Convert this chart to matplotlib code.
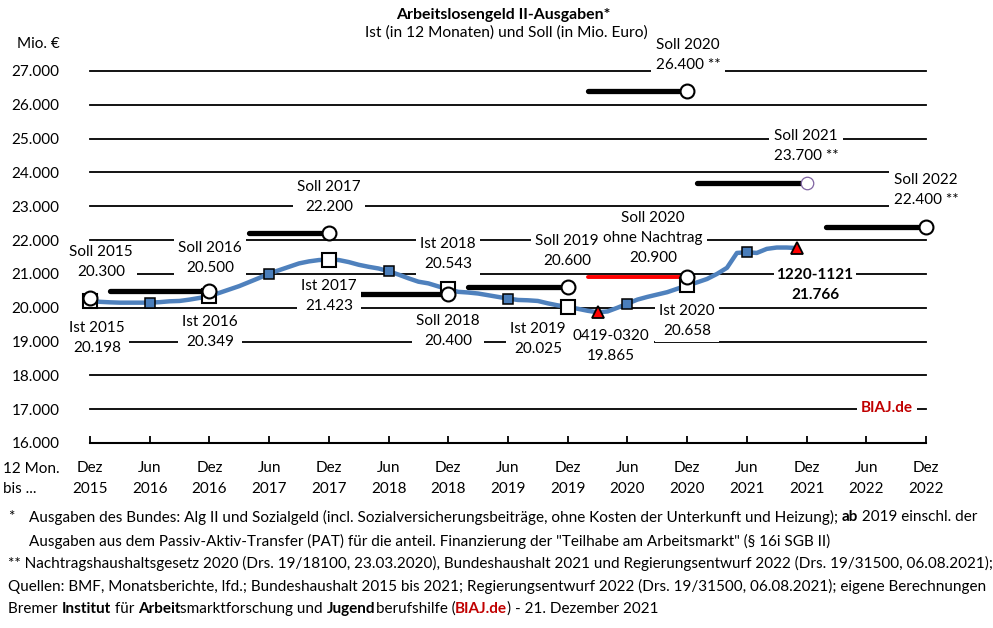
import matplotlib
matplotlib.use("Agg")
import matplotlib.pyplot as plt

W, H = 993, 628
FONT = "Lato"
BLACK = "#000000"
BLUE_LINE = "#4f81bd"
BLUE_MARK = "#4a7ebb"
RED = "#ff0000"
DARK_RED = "#c00000"

# months since Dec 2015, Ist in 12 months up to Nov 2021
ist_values = [
    20198,
    20175, 20160, 20150, 20150, 20150, 20150, 20165, 20190, 20200, 20240, 20290, 20349,
    20440, 20540, 20640, 20760, 20880, 21010, 21110, 21210, 21310, 21370, 21410, 21423,
    21410, 21350, 21270, 21210, 21160, 21080, 20980, 20870, 20770, 20720, 20630, 20543,
    20470, 20450, 20420, 20370, 20320, 20270, 20230, 20220, 20200, 20130, 20070, 20025,
    19970, 19910, 19865, 19890, 20000, 20120, 20240, 20320, 20390, 20460, 20560, 20658,
    20750, 20850, 21000, 21180, 21620, 21640, 21620, 21740, 21780, 21780, 21766,
]
dez_idx = [0, 12, 24, 36, 48, 60]
jun_idx = [6, 18, 30, 42, 54, 66]
tri_idx = [51, 71]

soll_start = [2, 16, 26, 38, 50, 61, 74]
soll_end = [12, 24, 36, 48, 60, 72, 84]
soll_values = [20500, 22200, 20400, 20600, 26400, 23700, 22400]
soll_2015 = 20300
nachtrag_value = 20900

y_ticks = list(range(16000, 27001, 1000))
y_labels = ["16.000", "17.000", "18.000", "19.000", "20.000", "21.000",
            "22.000", "23.000", "24.000", "25.000", "26.000", "27.000"]
x_ticks = list(range(0, 85, 6))
x_labels = ["Dez\n2015", "Jun\n2016", "Dez\n2016", "Jun\n2017", "Dez\n2017", "Jun\n2018",
            "Dez\n2018", "Jun\n2019", "Dez\n2019", "Jun\n2020", "Dez\n2020", "Jun\n2021",
            "Dez\n2021", "Jun\n2022", "Dez\n2022"]

# text, centre x px, centre y px, bold
labels = [
    ("Soll 2015\n20.300", 101, 262, False),
    ("Ist 2015\n20.198", 97, 338, False),
    ("Soll 2016\n20.500", 210, 258, False),
    ("Ist 2016\n20.349", 210, 332, False),
    ("Soll 2017\n22.200", 329, 197, False),
    ("Ist 2017\n21.423", 329, 296, False),
    ("Ist 2018\n20.543", 448, 254, False),
    ("Soll 2018\n20.400", 448, 331, False),
    ("Soll 2019\n20.600", 567, 251, False),
    ("Ist 2019\n20.025", 538, 339, False),
    ("0419-0320\n19.865", 611, 346, False),
    ("Soll 2020\nohne Nachtrag\n20.900", 653, 238, False),
    ("Ist 2020\n20.658", 687, 321, False),
    ("Soll 2020\n26.400 **", 688, 55, False),
    ("Soll 2021\n23.700 **", 806, 146, False),
    ("Soll 2022\n22.400 **", 926, 190, False),
    ("1220-1121\n21.766", 815, 285, True),
]

footnotes = [
    (8, 517, [("*", False, BLACK)]),
    (29, 517, [("Ausgaben des Bundes: Alg II und Sozialgeld (incl. Sozialversicherungsbeiträge, ohne Kosten der Unterkunft und Heizung); ", False, BLACK),
               ("ab", True, BLACK), (" 2019 einschl. der", False, BLACK)]),
    (29, 541, [("Ausgaben aus dem Passiv-Aktiv-Transfer (PAT) für die anteil. Finanzierung der \"Teilhabe am Arbeitsmarkt\" (§ 16i SGB II)", False, BLACK)]),
    (8, 563, [("** Nachtragshaushaltsgesetz 2020 (Drs. 19/18100, 23.03.2020), Bundeshaushalt 2021 und Regierungsentwurf 2022 (Drs. 19/31500, 06.08.2021);", False, BLACK)]),
    (8, 586, [("Quellen: BMF, Monatsberichte, lfd.; Bundeshaushalt 2015 bis 2021; Regierungsentwurf 2022 (Drs. 19/31500, 06.08.2021); eigene Berechnungen", False, BLACK)]),
    (8, 609, [("Bremer ", False, BLACK), ("Institut", True, BLACK), (" für ", False, BLACK), ("Arbeit", True, BLACK),
              ("smarktforschung und ", False, BLACK), ("Jugend", True, BLACK), ("berufshilfe (", False, BLACK),
              ("BIAJ.de", True, DARK_RED), (") - 21. Dezember 2021", False, BLACK)]),
]


def fx(x):
    return x / W


def fy(y):
    return 1 - y / H


def draw_runs(fig, x, y, runs, size):
    renderer = fig.canvas.get_renderer()
    for txt, bold, color in runs:
        weight = "bold" if bold else "normal"
        fig.text(fx(x), fy(y), txt, fontsize=size, fontweight=weight, color=color,
                 family=FONT, ha="left", va="center")
        # trailing blanks are not measured, so measure with a stop and take it off
        a = fig.text(0, 0, txt + ".", fontsize=size, fontweight=weight, family=FONT)
        b = fig.text(0, 0, ".", fontsize=size, fontweight=weight, family=FONT)
        x += a.get_window_extent(renderer).width - b.get_window_extent(renderer).width
        a.remove()
        b.remove()


def main():
    plt.rcParams["font.family"] = FONT
    fig = plt.figure(figsize=(W / 100, H / 100), dpi=100)
    ax = fig.add_axes([fx(90), fy(443), (926 - 90) / W, (443 - 71) / H])
    ax.patch.set_alpha(0)

    ax.set_xlim(0, 84)
    ax.set_ylim(16000, 27000)
    for side in ["top", "left", "right"]:
        ax.spines[side].set_visible(False)
    ax.spines["bottom"].set_linewidth(1.5)

    ax.set_axisbelow(True)
    ax.yaxis.grid(True, color=BLACK, linewidth=1.3)
    ax.set_yticks(y_ticks, y_labels, fontsize=11)
    for gl in ax.get_ygridlines():
        gl.set_clip_on(False)
    ax.tick_params(axis="y", length=0, pad=22)
    ax.set_xticks(x_ticks, x_labels, fontsize=11, linespacing=1.65)
    ax.tick_params(axis="x", direction="in", length=5, width=1.3, pad=13)

    # Soll bars with their end circles
    for start, end, val in zip(soll_start, soll_end, soll_values):
        ax.plot([start, end], [val, val], color=BLACK, lw=3.8, solid_capstyle="round",
                zorder=2, clip_on=False)
    ax.plot([soll_start[4], soll_end[4]], [nachtrag_value, nachtrag_value], color=RED, lw=2.8,
            solid_capstyle="round", zorder=2)

    for txt, x, y, bold in labels:
        pad = 0.18 if bold else 0.3
        ax.text(fx(x), fy(y), txt, transform=fig.transFigure, ha="center", va="center",
                fontsize=11, fontweight="bold" if bold else "normal", linespacing=1.5, zorder=3,
                bbox=dict(boxstyle=f"square,pad={pad}", facecolor="white", edgecolor="none"))
    ax.text(fx(887), fy(408), "BIAJ.de", transform=fig.transFigure, ha="center", va="center",
            fontsize=11, fontweight="bold", color=DARK_RED, zorder=3,
            bbox=dict(boxstyle="square,pad=0.25", facecolor="white", edgecolor="none"))

    months = list(range(len(ist_values)))
    ax.plot(months, ist_values, color=BLUE_LINE, lw=3.2, zorder=4, solid_capstyle="round")
    ax.plot(dez_idx, [ist_values[i] for i in dez_idx], ls="none", marker="s", ms=9.5, mfc="white",
            mec=BLACK, mew=1.5, zorder=5, clip_on=False)
    ax.plot(jun_idx, [ist_values[i] for i in jun_idx], ls="none", marker="s", ms=7, mfc=BLUE_MARK,
            mec=BLACK, mew=1.1, zorder=5)
    ax.plot(tri_idx, [ist_values[i] for i in tri_idx], ls="none", marker="^", ms=9, mfc=RED,
            mec=BLACK, mew=1.3, zorder=5)

    circle_x = [0] + [e for i, e in enumerate(soll_end) if i != 5]
    circle_y = [soll_2015] + [v for i, v in enumerate(soll_values) if i != 5]
    ax.plot(circle_x, circle_y, ls="none", marker="o", ms=10, mfc="white", mec=BLACK, mew=1.5,
            zorder=6, clip_on=False)
    ax.plot(soll_end[4], nachtrag_value, ls="none", marker="o", ms=10, mfc="white", mec=BLACK,
            mew=1.5, zorder=6)
    ax.plot(soll_end[5], soll_values[5], ls="none", marker="o", ms=9, mfc="white", mec="#8064a2",
            mew=0.9, zorder=6)

    fig.text(fx(503), fy(15), "Arbeitslosengeld II-Ausgaben*", fontsize=11.4, fontweight="bold",
             ha="center", va="center")
    fig.text(fx(506), fy(33), "Ist (in 12 Monaten) und Soll (in Mio. Euro)", fontsize=11.2,
             ha="center", va="center")
    fig.text(fx(17), fy(44), "Mio. €", fontsize=11, ha="left", va="center")
    fig.text(fx(3), fy(479), "12 Mon.\nbis ...", fontsize=11, ha="left", va="center",
             linespacing=1.6)

    for x, y, runs in footnotes:
        draw_runs(fig, x, y, runs, 11)

    fig.savefig("out.png", dpi=100)


if __name__ == "__main__":
    main()
